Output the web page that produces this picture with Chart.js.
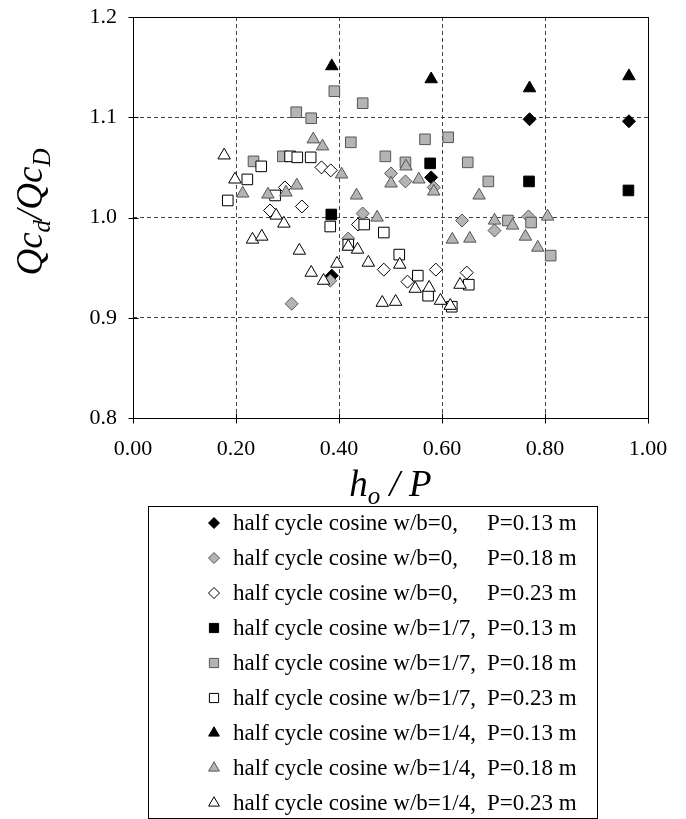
<!DOCTYPE html>
<html><head><meta charset="utf-8">
<script src="https://cdn.jsdelivr.net/npm/chart.js@4.4.0/dist/chart.umd.min.js"></script>
<style>html,body{margin:0;padding:0;background:#fff;}#wrap{position:relative;width:686px;height:819px;}canvas{display:block;}</style>
</head><body><div id="wrap"><canvas id="c" width="686" height="819"></canvas></div>
<script>
// ---- tick labels ----
const xTickLabels = ['0.00','0.20','0.40','0.60','0.80','1.00'];
const yTickLabels = ['0.8','0.9','1.0','1.1','1.2'];

// ---- series labels ----
const seriesLabels = [
  'half cycle cosine w/b=0, P=0.13 m',
  'half cycle cosine w/b=0, P=0.18 m',
  'half cycle cosine w/b=0, P=0.23 m',
  'half cycle cosine w/b=1/7, P=0.13 m',
  'half cycle cosine w/b=1/7, P=0.18 m',
  'half cycle cosine w/b=1/7, P=0.23 m',
  'half cycle cosine w/b=1/4, P=0.13 m',
  'half cycle cosine w/b=1/4, P=0.18 m',
  'half cycle cosine w/b=1/4, P=0.23 m'
];

// ---- data (h_o/P , Qc_d/Qc_D) ----
const x_w0_P13 = [0.386, 0.579, 0.770, 0.963];
const y_w0_P13 = [0.942, 1.040, 1.098, 1.096];

const x_w0_P18 = [0.308, 0.383, 0.418, 0.446, 0.501, 0.529, 0.584, 0.639, 0.702, 0.768];
const y_w0_P18 = [0.914, 0.937, 0.979, 1.004, 1.044, 1.036, 1.030, 0.997, 0.987, 1.001];

const x_w0_P23 = [0.266, 0.295, 0.328, 0.366, 0.384, 0.437, 0.487, 0.533, 0.588, 0.648];
const y_w0_P23 = [1.007, 1.030, 1.011, 1.050, 1.047, 0.993, 0.948, 0.936, 0.948, 0.945];

const x_w17_P13 = [0.385, 0.577, 0.769, 0.962];
const y_w17_P13 = [1.003, 1.054, 1.036, 1.027];

const x_w17_P18 = [0.234, 0.291, 0.317, 0.346, 0.391, 0.423, 0.446, 0.490, 0.529, 0.567, 0.612, 0.650, 0.690, 0.728, 0.773, 0.811];
const y_w17_P18 = [1.056, 1.061, 1.105, 1.099, 1.126, 1.075, 1.114, 1.061, 1.055, 1.078, 1.080, 1.055, 1.036, 0.997, 0.995, 0.962];

const x_w17_P23 = [0.184, 0.222, 0.249, 0.276, 0.305, 0.319, 0.345, 0.383, 0.418, 0.449, 0.487, 0.517, 0.553, 0.573, 0.619, 0.652];
const y_w17_P23 = [1.017, 1.038, 1.051, 1.022, 1.061, 1.060, 1.060, 0.991, 0.973, 0.993, 0.985, 0.963, 0.942, 0.922, 0.911, 0.933];

const x_w14_P13 = [0.386, 0.579, 0.770, 0.963];
const y_w14_P13 = [1.151, 1.138, 1.129, 1.141];

const x_w14_P18 = [0.213, 0.262, 0.297, 0.318, 0.350, 0.368, 0.405, 0.434, 0.474, 0.501, 0.530, 0.555, 0.584, 0.620, 0.654, 0.672, 0.702, 0.737, 0.762, 0.786, 0.805];
const y_w14_P18 = [1.024, 1.023, 1.025, 1.032, 1.078, 1.071, 1.043, 1.022, 1.000, 1.034, 1.051, 1.038, 1.026, 0.978, 0.979, 1.022, 0.997, 0.992, 0.981, 0.970, 1.001];

const x_w14_P23 = [0.177, 0.198, 0.232, 0.250, 0.278, 0.293, 0.323, 0.346, 0.370, 0.396, 0.418, 0.436, 0.457, 0.484, 0.510, 0.518, 0.548, 0.575, 0.597, 0.616, 0.635];
const y_w14_P23 = [1.062, 1.038, 0.978, 0.981, 1.002, 0.994, 0.967, 0.945, 0.937, 0.954, 0.971, 0.968, 0.955, 0.915, 0.916, 0.953, 0.929, 0.930, 0.917, 0.912, 0.933];

const seriesX = [x_w0_P13, x_w0_P18, x_w0_P23, x_w17_P13, x_w17_P18, x_w17_P23, x_w14_P13, x_w14_P18, x_w14_P23];
const seriesY = [y_w0_P13, y_w0_P18, y_w0_P23, y_w17_P13, y_w17_P18, y_w17_P23, y_w14_P13, y_w14_P18, y_w14_P23];

// ---- styles ----
const GRAY_FILL = '#b4b4b4', GRAY_LINE = '#555555';
const shapes = ['rectRot','rectRot','rectRot','rect','rect','rect','triangle','triangle','triangle'];
const fills  = ['#000', GRAY_FILL, '#fff', '#000', GRAY_FILL, '#fff', '#000', GRAY_FILL, '#fff'];
const lines  = ['#000', GRAY_LINE, '#000', '#000', GRAY_LINE, '#000', '#000', GRAY_LINE, '#000'];
const radii  = {rectRot: 6.5, rect: 7.5, triangle: 7.2};
const legendRadii = {rectRot: 5.5, rect: 6.5, triangle: 6.2};
const SERIF = "'Liberation Serif','Times New Roman',serif";

const datasets = seriesX.map((xs, i) => ({
  label: seriesLabels[i],
  data: xs.map((x, j) => ({x: x, y: seriesY[i][j]})),
  pointStyle: shapes[i],
  pointRadius: radii[shapes[i]],
  pointHoverRadius: radii[shapes[i]],
  backgroundColor: fills[i],
  borderColor: lines[i],
  pointBorderWidth: 1,
  showLine: false,
  order: 9 - i
}));

const decor = {
  id: 'decor',
  beforeDatasetsDraw(chart) {
    const {ctx, chartArea: a} = chart;
    const L = Math.round(a.left) + 0.5, R = Math.round(a.right) + 0.5;
    const T = Math.round(a.top) + 0.5, B = Math.round(a.bottom) + 0.5;
    ctx.save();
    ctx.strokeStyle = '#000';
    ctx.lineWidth = 1;
    ctx.setLineDash([]);
    ctx.strokeRect(L, T, R - L, B - T);
    ctx.beginPath();
    chart.scales.y.ticks.forEach(t => {
      const py = Math.round(chart.scales.y.getPixelForValue(t.value)) + 0.5;
      ctx.moveTo(L - 5, py); ctx.lineTo(L + 5, py);
    });
    chart.scales.x.ticks.forEach(t => {
      const px = Math.round(chart.scales.x.getPixelForValue(t.value)) + 0.5;
      ctx.moveTo(px, B - 5); ctx.lineTo(px, B + 5);
    });
    ctx.stroke();
    ctx.restore();
  },
  afterDraw(chart) {
    const {ctx, chartArea: a} = chart;
    ctx.save();
    ctx.fillStyle = '#000';
    ctx.textBaseline = 'alphabetic';
    // --- y title: Qc_d / Qc_D (rotated)
    const big = 'italic 37px ' + SERIF, sub = 'italic 25px ' + SERIF;
    const yParts = [['Qc', big, 0], ['d', sub, 8], ['/', big, 0], ['Qc', big, 0], ['D', sub, 8]];
    let w = 0;
    yParts.forEach(p => { ctx.font = p[1]; w += ctx.measureText(p[0]).width; });
    ctx.translate(42, 212);
    ctx.rotate(-Math.PI / 2);
    let cx = -w / 2;
    yParts.forEach(p => { ctx.font = p[1]; ctx.fillText(p[0], cx, p[2]); cx += ctx.measureText(p[0]).width; });
    ctx.setTransform(1, 0, 0, 1, 0, 0);
    // --- x title: h_o / P
    const xParts = [['h', big, 0], ['o', sub, 8], [' / P', big, 0]];
    w = 0;
    xParts.forEach(p => { ctx.font = p[1]; w += ctx.measureText(p[0]).width; });
    cx = (a.left + a.right) / 2 - w / 2;
    xParts.forEach(p => { ctx.font = p[1]; ctx.fillText(p[0], cx, 496 + p[2]); cx += ctx.measureText(p[0]).width; });
    // --- legend
    ctx.strokeStyle = '#000';
    ctx.lineWidth = 1;
    ctx.strokeRect(148.5, 506.5, 449, 312);
    ctx.font = '23px ' + SERIF;
    ctx.textBaseline = 'middle';
    seriesLabels.forEach((lab, i) => {
      const y = 523 + 35 * i;
      ctx.fillStyle = fills[i];
      ctx.strokeStyle = lines[i];
      ctx.lineWidth = 1;
      Chart.helpers.drawPoint(ctx, {pointStyle: shapes[i], radius: legendRadii[shapes[i]], borderWidth: 1, rotation: 0}, 214, y);
      const k = lab.lastIndexOf(' P=');
      ctx.fillStyle = '#000';
      ctx.fillText(lab.slice(0, k), 233, y + 1);
      ctx.fillText(lab.slice(k + 1), 487, y + 1);
    });
    ctx.restore();
  }
};

new Chart(document.getElementById('c'), {
  type: 'scatter',
  data: {datasets},
  options: {
    responsive: false,
    devicePixelRatio: 1,
    animation: false,
    events: [],
    layout: {padding: {top: 17, right: 38, bottom: 341, left: 0}},
    plugins: {legend: {display: false}, tooltip: {enabled: false}},
    scales: {
      x: {
        type: 'linear', min: 0, max: 1,
        afterFit: s => { s.height = 60; s.paddingLeft = 0; s.paddingRight = 0; },
        ticks: {stepSize: 0.2, padding: 18, color: '#000', font: {family: SERIF, size: 22},
                callback: (v, i) => xTickLabels[i]},
        grid: {color: '#444', lineWidth: 1, drawTicks: false},
        border: {display: false, dash: [4, 3]}
      },
      y: {
        type: 'linear', min: 0.8, max: 1.2,
        afterFit: s => { s.width = 133; s.paddingTop = 0; s.paddingBottom = 0; },
        ticks: {stepSize: 0.1, padding: 16, color: '#000', font: {family: SERIF, size: 22},
                callback: (v, i) => yTickLabels[i]},
        grid: {color: '#444', lineWidth: 1, drawTicks: false},
        border: {display: false, dash: [4, 3]}
      }
    }
  },
  plugins: [decor]
});
</script>
</body></html>
